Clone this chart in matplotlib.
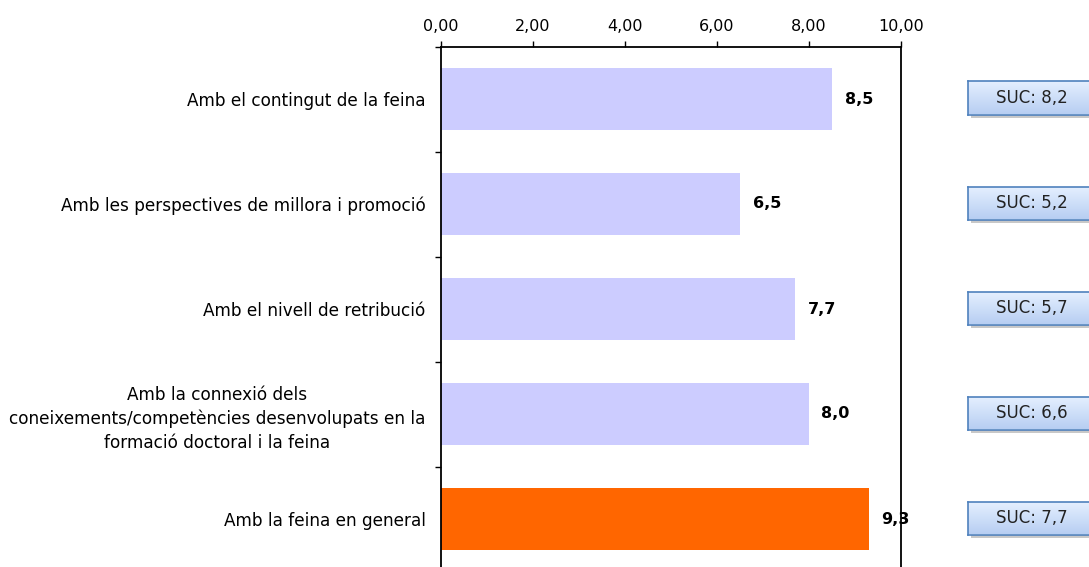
import numpy as np
import matplotlib
matplotlib.use("Agg")
import matplotlib.pyplot as plt
from matplotlib.ticker import FixedLocator, FuncFormatter

# dades
categories = [
    "Amb el contingut de la feina",
    "Amb les perspectives de millora i promoció",
    "Amb el nivell de retribució",
    "Amb la connexió dels\nconeixements/competències desenvolupats en la\nformació doctoral i la feina",
    "Amb la feina en general",
]
values = [8.5, 6.5, 7.7, 8.0, 9.3]
suc_values = [8.2, 5.2, 5.7, 6.6, 7.7]
bar_colors = ["#ccccff", "#ccccff", "#ccccff", "#ccccff", "#ff6600"]

W, H = 1089, 567
fig = plt.figure(figsize=(W / 100, H / 100), dpi=100)
plt.rcParams["font.family"] = ["DejaVu Sans"]

# eix principal (la part inferior queda fora de la figura, com a l'original)
ax = fig.add_axes([441 / W, (H - 571.5) / H, 460 / W, 525 / H])
ypos = np.arange(len(categories))
ax.barh(ypos, values, height=0.59, color=bar_colors, zorder=2)

ax.set_xlim(0, 10)
ax.set_ylim(len(categories) - 0.5, -0.5)

ax.xaxis.tick_top()
ax.set_xticks(np.arange(0, 10.01, 2))
ax.xaxis.set_major_formatter(FuncFormatter(lambda v, p: f"{v:.2f}".replace(".", ",")))
ax.tick_params(axis="x", direction="out", length=4, width=1, labelsize=11.5, pad=5)

ax.set_yticks(ypos)
ax.set_yticklabels(categories, fontsize=12.2)
for lbl in ax.get_yticklabels():
    lbl.set_multialignment("center")
    lbl.set_linespacing(1.42)
ax.tick_params(axis="y", which="major", length=0, pad=11)
ax.yaxis.set_minor_locator(FixedLocator(np.arange(-0.5, len(categories), 1.0)))
ax.tick_params(axis="y", which="minor", direction="out", length=4, width=1)

for s in ["top", "left", "right"]:
    ax.spines[s].set_linewidth(1.3)
    ax.spines[s].set_zorder(6)
ax.spines["bottom"].set_visible(False)

# etiquetes de valor
for y, v in zip(ypos, values):
    ax.annotate(f"{v:.1f}".replace(".", ","), (v, y), xytext=(9, 0),
                textcoords="offset points", ha="left", va="center",
                fontsize=11.5, fontweight="bold", zorder=5)

# caixes SUC amb degradat
fig.canvas.draw()
grad = np.linspace(0, 1, 64).reshape(-1, 1)
top_c = np.array([0.90, 0.94, 1.00])
bot_c = np.array([0.72, 0.81, 0.95])
img = top_c[None, None, :] * (1 - grad[..., None]) + bot_c[None, None, :] * grad[..., None]
bw, bh = 128, 33
for y, s in zip(ypos, suc_values):
    _, yd = ax.transData.transform((0, y))
    yc = yd + 1
    # ombra
    sh = fig.add_axes([(968 + 3) / W, (yc - bh / 2 - 3) / H, bw / W, bh / H])
    sh.set_facecolor("#c8c8c8")
    sh.set_xticks([]); sh.set_yticks([])
    for sp in sh.spines.values():
        sp.set_visible(False)
    bx = fig.add_axes([968 / W, (yc - bh / 2) / H, bw / W, bh / H])
    bx.imshow(img, aspect="auto", extent=(0, 1, 0, 1))
    bx.set_xlim(0, 1); bx.set_ylim(0, 1)
    bx.set_xticks([]); bx.set_yticks([])
    for sp in bx.spines.values():
        sp.set_color("#4f81bd")
        sp.set_linewidth(1.2)
    bx.text(0.5, 0.5, f"SUC: {s:.1f}".replace(".", ","), ha="center", va="center",
            fontsize=12, color="#222222")

fig.savefig("out.png", dpi=100)
